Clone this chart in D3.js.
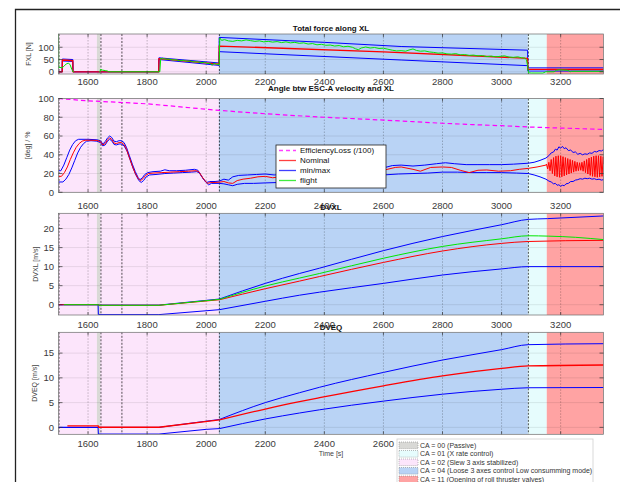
<!DOCTYPE html>
<html><head><meta charset="utf-8">
<script src="https://cdn.jsdelivr.net/npm/d3@7"></script>
<style>body{margin:0;background:#fff}svg{display:block}</style>
</head><body><svg id="fig" width="620" height="482"></svg>
<script>
// ---- time axis and control-mode (CA) phases ----
const timeTicks = [1600, 1800, 2000, 2200, 2400, 2600, 2800, 3000, 3200];
const caStart = [1500, 1630, 1642, 2043, 3089, 3153];
const caEnd   = [1630, 1642, 2043, 3089, 3153, 3345];
const caMode  = ["02", "00", "02", "04", "01", "11"];
const caEvents = [1500, 1642, 1713, 2043, 3089];
const caLegendModes = ["00", "01", "02", "04", "11"];
const caLegendLabels = [
  "CA = 00 (Passive)",
  "CA = 01 (X rate control)",
  "CA = 02 (Slew 3 axis stabilized)",
  "CA = 04 (Loose 3 axes control Low consumming mode)",
  "CA = 11 (Opening of roll thruster valves)"
];

// ---- total force along XL [N] ----
const fxlTicks = [0, 50, 100];
const fxlNomT = [1500,1512.5,1513,1530,1548.5,1549,1839.5,1840,2043.5,2044,2600,3088,3089,3345];
const fxlNomV = [0,0,48,47,45,0,0,54,31,105,81,55,10,10];
const fxlMaxT = [1500,1512.5,1513,1548.5,1549,1839.5,1840,2043.5,2044,2400,2660,3088,3089,3345];
const fxlMaxV = [0,0,52,50,0,0,57,36,140,120,103,88,16,16];
const fxlMinT = [1500,1512.5,1513,1548.5,1549,1839.5,1840,2043.5,2044,2660,3088,3089,3345];
const fxlMinV = [0,0,44,42,0,0,50,26,82,48,25,3,3];
const fxlFltT = [1500,1500.8,1505,1512,1518,1526,1533,1539,1545,1549,1552,1553,1638,1641,1642,1648,1658,1666,1670,1843,1846,1852,1862,1874,1886,1898,1910,1922,1934,1946,1958,1970,1982,1994,2006,2012,2020,2026,2034,2040,2044,2046,2052,2062,2075,2090,2105,2120,2135,2150,2165,2180,2195,2210,2225,2240,2255,2270,2285,2300,2315,2330,2345,2360,2375,2390,2405,2420,2435,2450,2465,2480,2495,2505,2515,2525,2540,2555,2570,2585,2600,2615,2630,2645,2660,2675,2690,2700,2712,2725,2740,2755,2770,2785,2800,2815,2830,2845,2860,2875,2890,2905,2920,2935,2950,2965,2980,2995,3010,3025,3040,3055,3068,3078,3084,3088,3091,3100,3140,3150,3178,3185,3195,3210,3225,3232,3236,3345];
const fxlFltV = [160,16,18,16,22,32,35,30,10,0,0,null,0,0,10,7,5,3,0,0,53,55,51,52,48,49,45,47,43,44,40,41,37,39,33,36,26,35,31,30,28,138,128,131,126,124,128,126,130,127,124,126,122,124,121,123,119,122,118,120,116,118,113,115,110,112,108,109,105,107,102,104,100,94,90,97,101,97,99,95,96,92,88,85,86,84,90,93,87,84,85,81,79,76,77,73,72,74,69,70,67,68,65,66,62,64,61,63,65,60,59,61,57,56,50,25,-4,-5,-5,0,0,6,8,7,6,0,2,2];

// ---- angle between ESC-A velocity and XL [deg] / efficiency loss [%] ----
const angTicks = [0, 20, 40, 60, 80, 100];
const effT = [1500,1600,1700,1800,1900,2000,2100,2200,2300,2400,2500,2600,2700,2800,2900,3000,3100,3200,3345];
const effV = [100,97.5,96,94.3,91.5,88.5,86,83.7,81.8,80,78.5,77,75.3,73.6,72.2,71,69.5,68.5,67];
const angNomT = [1500,1510,1520,1530,1540,1550,1560,1570,1580,1590,1610,1630,1642,1650,1658,1666,1673,1680,1688,1696,1705,1713,1722,1730,1740,1750,1760,1770,1778,1786,1795,1805,1820,1850,1880,1910,1940,1965,1975,1985,1995,2005,2015,2030,2045,2060,2075,2090,2105,2125,2150,2175,2200,2225,2250,2280,2320,2360,2400,2450,2500,2550,2600,2640,2660,2700,2725,2760,2800,2830,2860,2890,2920,2950,2990,3030,3060,3090,3120,3150,
  3152,3156,3160,3164,3168,3172,3176,3180,3184,3188,3192,3196,3200,3204,3208,3212,3216,3220,3224,3228,3232,3236,3240,3244,3248,3252,3256,3260,3264,3268,3272,3276,3280,3284,3288,3292,3296,3300,3304,3308,3312,3316,3320,3324,3328,3332,3336,3340,3344,3345];
const angNomV = [17,17,21,27,35,42,48,52,54.5,55.5,55.5,55.3,54,50.5,52,56,58,56.5,52.5,52,53,53,51,46,37,28,20,14.5,12.5,14.5,18,20,20.5,21,21.5,22,22.5,23,22,17,12.5,9.5,10.5,10.5,10.8,11.5,10,9.5,12.5,14,15,16.5,17,15.5,16.5,18,19.5,20,20.5,21.5,21.5,22,23.5,26.5,27,24.5,22.5,26.5,27,26.5,23.5,21,23.5,23.8,22.5,23,24.5,25.5,27,29,
  30,25,32,23,35,20,37,17.5,38.5,16.5,39,16,39,16.5,38,17.5,37,18.5,36,19.5,35,20.5,34,21.5,33,22.5,32,23,31.5,23.5,32,22.5,33.5,21,35,19.5,36.5,18,37.5,17,38.5,16.5,39,16,39,16.5,38.5,17,38,30];
const angMaxT = [1500,1508,1518,1528,1538,1548,1558,1568,1600,1630,1642,1650,1658,1666,1673,1680,1688,1696,1705,1713,1722,1730,1740,1750,1760,1770,1776,1784,1792,1802,1820,1845,1860,1875,1900,1930,1960,1972,1982,1992,2002,2012,2030,2045,2060,2075,2090,2110,2140,2170,2200,2230,2260,2300,2350,2400,2450,2500,2550,2600,2630,2660,2700,2740,2780,2810,2840,2880,2920,2960,3000,3040,3090,3110,3130,3150,3160,3168,3176,3182,3188,3194,3200,3206,3212,3218,3226,3234,3242,3250,3258,3266,3274,3282,3290,3298,3306,3314,3322,3330,3338,3345];
const angMaxV = [23,23,29,37,45,51,55,56.5,56.5,56,55,51.5,54,58,60,58.5,54.5,54,55,55,53,48,39,30,22,15.5,13.5,15.5,19,21,22,22.5,24,23,23,23.5,24.5,23.5,18,13.5,10.5,11.5,11.5,12,14,13,16.5,18,18.5,19,19.5,18.5,19,20.5,21.5,22.5,23.5,24.5,25,26,28.5,29,28,29,30.5,31.5,30.5,29.5,29.5,29.5,29.5,30,31,32,34,36.5,39,42,43,46,45,48.5,47,49,46.5,47.5,44.5,45,42.5,43,40.5,41.5,40,41,40.5,42,41.5,43.5,43,44.5,44,45.5];
const angMinT = [1500,1515,1525,1535,1545,1555,1565,1575,1585,1595,1610,1630,1642,1650,1658,1666,1673,1680,1688,1696,1705,1713,1722,1732,1742,1752,1762,1772,1780,1788,1797,1808,1830,1860,1890,1920,1950,1968,1978,1988,1998,2008,2018,2045,2060,2075,2090,2105,2130,2160,2200,2250,2300,2350,2400,2450,2500,2550,2600,2650,2700,2750,2800,2850,2900,2950,3000,3050,3090,3110,3130,3150,3160,3168,3176,3182,3188,3194,3200,3206,3212,3218,3226,3234,3242,3250,3258,3266,3274,3282,3290,3298,3306,3314,3322,3330,3338,3345];
const angMinV = [11,11,14,19,26,34,42,48,52,54.5,55,54.5,53,49.5,50.5,54.5,56.5,55,51,50.5,51.5,51.5,49.5,44,35,26,18.5,12.5,10.5,12.5,16.5,18.5,19,20,20.5,21,21.5,22,20.5,15.5,11,8,9.5,9.5,9,8,7,8.5,9.5,9.5,10,10.5,11.5,12.5,13.5,14.5,16,17,18.5,19.5,20,20.5,21.5,21.5,21,21,21,20.5,20,18.5,16.5,14,12,11,9,9.5,7.5,8,6.5,7.5,7,9,9.5,11.5,11.5,13,13.5,14.5,14,15,14.5,15,14,14.5,13.5,14,13,13.5];

// ---- delta-V along XL [m/s] ----
const dvxlTicks = [0, 5, 10, 15, 20];
const dvxlNomT = [1500,1635,1636,1840,2045,2200,2316,2384,2600,2800,3000,3090,3345];
const dvxlNomV = [0,0,-0.15,-0.15,1.3,4.2,6.2,7.4,11.1,14.1,16.1,16.6,16.9];
const dvxlMaxT = [1500,1635,1636,1840,2045,2200,2316,2384,2600,2800,3000,3090,3155,3345];
const dvxlMaxV = [0,0,-0.1,-0.1,1.5,5.6,8.2,9.6,14.2,17.9,21.0,22.4,22.6,23.3];
const dvxlMinT = [1500,1634,1635,1840,2045,2200,2316,2384,2600,2800,3000,3090,3345];
const dvxlMinV = [0,0,-2.6,-2.6,-1.3,0.9,2.5,3.3,5.6,7.8,9.4,10.0,10.0];
const dvxlFltT = [1518,1635,1636,1840,2045,2200,2316,2384,2600,2800,3000,3090,3160,3250,3300,3345];
const dvxlFltV = [0,0,-0.15,-0.15,1.4,4.9,7.0,8.2,12.2,15.3,17.3,18.1,18.0,17.7,17.4,17.1];

// ---- delta-V along EQ [m/s] ----
const dveqTicks = [0, 5, 10, 15];
const dveqNomT = [1530,1635,1636,1840,2045,2200,2316,2384,2600,2800,3000,3090,3345];
const dveqNomV = [0.3,0.3,0.02,0.02,1.5,3.7,5.2,6.0,8.4,10.4,11.9,12.4,12.6];
const dveqMaxT = [1500,1840,2045,2200,2316,2384,2600,2800,3000,3090,3345];
const dveqMaxV = [0,0,1.6,5.0,7.0,8.1,11.1,13.6,15.7,16.7,16.9];
const dveqMinT = [1500,1634,1635,1840,2000,2045,2200,2316,2384,2600,2800,3000,3090,3345];
const dveqMinV = [0,0,-1.35,-1.35,-0.4,-0.25,1.7,2.9,3.55,5.3,6.7,7.7,8.0,8.05];

// ---- styling ----
const modeColor = {"00": "#d9d9d6", "01": "#e6fcfd", "02": "#fce5fb", "04": "#b9d3f5", "11": "#ffa3a3"};
const RED = "#ff0000", BLUE = "#0000ff", GREEN = "#00e600", MAG = "#ff00ff";
const FONT = "'Liberation Sans', Helvetica, Arial, sans-serif";

const zip = (t, v) => t.map((x, i) => ({t: x, v: v[i]}));

const svg = d3.select("#fig");
svg.append("rect").attr("width", 620).attr("height", 482).attr("fill", "#fff");
// figure frame
svg.append("path").attr("d", "M15.5,490 V9.5 H630").attr("fill", "none")
  .attr("stroke", "#222").attr("stroke-width", 1.3);

const x = d3.scaleLinear().domain([1500, 3345]).range([58.5, 603.5]);

// mode legend sits over the right part of the last time axis
const legendBox = {x: 397, y: 439, w: 196, h: 60};

const panels = [
  {top: 34, bottom: 74, domain: [-9, 154], ticks: fxlTicks, title: "Total force along XL", titleY: 31,
   ylabel: "FXL [N]", ylabelX: 31, xLabelY: 85,
   series: [
     {t: fxlMaxT, v: fxlMaxV, c: BLUE}, {t: fxlMinT, v: fxlMinV, c: BLUE},
     {t: fxlNomT, v: fxlNomV, c: RED, w: 1.3}, {t: fxlFltT, v: fxlFltV, c: GREEN}]},
  {top: 98.5, bottom: 192.3, domain: [0, 100], ticks: angTicks, title: "Angle btw ESC-A velocity and XL", titleY: 91,
   ylabel: "[deg] / %", ylabelX: 30, xLabelY: 208.5,
   series: [
     {t: effT, v: effV, c: MAG, dash: "4.5,3", w: 1.2},
     {t: angMaxT, v: angMaxV, c: BLUE}, {t: angMinT, v: angMinV, c: BLUE},
     {t: angNomT, v: angNomV, c: RED}]},
  {top: 213.3, bottom: 315, domain: [-2.7, 24], ticks: dvxlTicks, title: "DVXL", titleY: 210,
   ylabel: "DVXL [m/s]", ylabelX: 38, xLabelY: 327.5, smoothFrom: 2045,
   series: [
     {t: dvxlMaxT, v: dvxlMaxV, c: BLUE}, {t: dvxlMinT, v: dvxlMinV, c: BLUE},
     {t: dvxlNomT, v: dvxlNomV, c: RED}, {t: dvxlFltT, v: dvxlFltV, c: GREEN}]},
  {top: 332.3, bottom: 434.3, domain: [-1.4, 19.2], ticks: dveqTicks, title: "DVEQ", titleY: 329.5,
   ylabel: "DVEQ [m/s]", ylabelX: 37, xLabelY: 446.5, smoothFrom: 2045, underLegend: true,
   series: [
     {t: dveqMaxT, v: dveqMaxV, c: BLUE}, {t: dveqMinT, v: dveqMinV, c: BLUE},
     {t: dveqNomT, v: dveqNomV, c: RED, w: 1.3}]}
];

panels.forEach((p, pi) => {
  const y = d3.scaleLinear().domain(p.domain).range([p.bottom, p.top]);
  const g = svg.append("g");
  const clipId = "clip" + pi;
  g.append("clipPath").attr("id", clipId).append("rect")
    .attr("x", x.range()[0]).attr("y", p.top)
    .attr("width", x.range()[1] - x.range()[0]).attr("height", p.bottom - p.top);
  const plot = g.append("g").attr("clip-path", `url(#${clipId})`);

  // control-mode phases
  plot.selectAll("rect.ca").data(caStart.map((s, i) => ({s, e: caEnd[i], m: caMode[i]})))
    .join("rect").attr("class", "ca")
    .attr("x", d => x(d.s)).attr("width", d => x(d.e) - x(d.s))
    .attr("y", p.top).attr("height", p.bottom - p.top)
    .attr("fill", d => modeColor[d.m]);

  // grid
  plot.selectAll("line.gx").data(timeTicks).join("line").attr("class", "gx")
    .attr("x1", d => x(d)).attr("x2", d => x(d)).attr("y1", p.top).attr("y2", p.bottom)
    .attr("stroke", "#000").attr("stroke-opacity", 0.4).attr("stroke-width", 0.6)
    .attr("stroke-dasharray", "1.5,1.5");
  plot.selectAll("line.gy").data(p.ticks).join("line").attr("class", "gy")
    .attr("x1", x.range()[0]).attr("x2", x.range()[1]).attr("y1", d => y(d)).attr("y2", d => y(d))
    .attr("stroke", "#000").attr("stroke-opacity", 0.15).attr("stroke-width", 0.6);

  // mode switch markers
  plot.selectAll("line.ev").data(caEvents).join("line").attr("class", "ev")
    .attr("x1", d => x(d) + 0.5).attr("x2", d => x(d) + 0.5).attr("y1", p.top).attr("y2", p.bottom)
    .attr("stroke", "#000").attr("stroke-opacity", 0.85).attr("stroke-width", 0.8)
    .attr("stroke-dasharray", "2,1.5");

  // series: linear segments, with the accumulated delta-V drawn smooth once thrusting starts
  const linear = d3.line().defined(d => d.v !== null).x(d => x(d.t)).y(d => y(d.v));
  const smooth = d3.line().x(d => x(d.t)).y(d => y(d.v)).curve(d3.curveMonotoneX);
  p.series.forEach(s => {
    const pts = zip(s.t, s.v);
    const parts = p.smoothFrom
      ? [[pts.filter(d => d.t <= p.smoothFrom), linear], [pts.filter(d => d.t >= p.smoothFrom), smooth]]
      : [[pts, linear]];
    parts.forEach(([data, gen]) => {
      plot.append("path").datum(data).attr("d", gen)
        .attr("fill", "none").attr("stroke", s.c).attr("stroke-width", s.w || 1)
        .attr("stroke-dasharray", s.dash || null).attr("stroke-linejoin", "round");
    });
  });

  // axes box and inward ticks
  const [x0, x1] = x.range();
  g.append("rect").attr("x", x0).attr("y", p.top).attr("width", x1 - x0).attr("height", p.bottom - p.top)
    .attr("fill", "none").attr("stroke", "#6a6a6a").attr("stroke-width", 0.7);
  const tk = g.append("g").attr("stroke", "#333").attr("stroke-width", 0.7);
  timeTicks.forEach(t => {
    tk.append("line").attr("x1", x(t)).attr("x2", x(t)).attr("y1", p.bottom).attr("y2", p.bottom - 3);
    tk.append("line").attr("x1", x(t)).attr("x2", x(t)).attr("y1", p.top).attr("y2", p.top + 3);
  });
  p.ticks.forEach(v => {
    tk.append("line").attr("x1", x0).attr("x2", x0 + 4).attr("y1", y(v)).attr("y2", y(v));
    tk.append("line").attr("x1", x1).attr("x2", x1 - 4).attr("y1", y(v)).attr("y2", y(v));
  });

  // tick labels (those hidden under the mode legend are skipped)
  const xLabels = p.underLegend ? timeTicks.filter(t => x(t) + 12 < legendBox.x) : timeTicks;
  g.selectAll("text.xt").data(xLabels).join("text").attr("class", "xt")
    .attr("x", d => x(d)).attr("y", p.xLabelY).attr("text-anchor", "middle")
    .attr("font-family", FONT).attr("font-size", 9.5).attr("fill", "#3a3a3a").text(d => d);
  g.selectAll("text.yt").data(p.ticks).join("text").attr("class", "yt")
    .attr("x", 54).attr("y", d => y(d)).attr("dy", "0.35em").attr("text-anchor", "end")
    .attr("font-family", FONT).attr("font-size", 9.5).attr("fill", "#3a3a3a").text(d => d);

  // y label
  g.append("text").attr("transform", `translate(${p.ylabelX},${(p.top + p.bottom) / 2}) rotate(-90)`)
    .attr("text-anchor", "middle").attr("font-family", FONT).attr("font-size", 7)
    .attr("fill", "#444").text(p.ylabel);

  // title
  g.append("text").attr("x", (x0 + x1) / 2).attr("y", p.titleY).attr("text-anchor", "middle")
    .attr("font-family", FONT).attr("font-size", 8).attr("font-weight", "bold")
    .attr("fill", "#111").text(p.title);
});

// x label
svg.append("text").attr("x", 331).attr("y", 455.5).attr("text-anchor", "middle")
  .attr("font-family", FONT).attr("font-size", 7).attr("fill", "#444").text("Time [s]");

// series legend in the angle panel
const lgItems = [
  {label: "EfficiencyLoss (/100)", c: MAG, dash: "4,3"},
  {label: "Nominal", c: RED},
  {label: "min/max", c: BLUE},
  {label: "flight", c: GREEN}
];
const lg = svg.append("g").attr("transform", "translate(276,145)");
lg.append("rect").attr("width", 110).attr("height", 43).attr("fill", "#fff")
  .attr("stroke", "#222").attr("stroke-width", 0.8);
lgItems.forEach((d, i) => {
  const yy = 5.5 + i * 10;
  lg.append("line").attr("x1", 3).attr("x2", 20).attr("y1", yy).attr("y2", yy)
    .attr("stroke", d.c).attr("stroke-width", 1.3).attr("stroke-opacity", 0.75)
    .attr("stroke-dasharray", d.dash || null);
  lg.append("text").attr("x", 24).attr("y", yy).attr("dy", "0.35em")
    .attr("font-family", FONT).attr("font-size", 8).attr("fill", "#111").text(d.label);
});

// control-mode legend
const cl = svg.append("g").attr("transform", `translate(${legendBox.x},${legendBox.y})`);
cl.append("rect").attr("width", legendBox.w).attr("height", legendBox.h).attr("fill", "#fff")
  .attr("stroke", "#cfcfcf").attr("stroke-width", 0.8);
caLegendModes.forEach((m, i) => {
  const yy = 6.3 + i * 8.5;
  cl.append("rect").attr("x", 2).attr("y", yy - 3.3).attr("width", 19).attr("height", 6.6)
    .attr("fill", modeColor[m]).attr("stroke", "#777").attr("stroke-width", 0.5)
    .attr("stroke-dasharray", "1,1");
  cl.append("text").attr("x", 23).attr("y", yy).attr("dy", "0.35em")
    .attr("font-family", FONT).attr("font-size", 7).attr("fill", "#333").text(caLegendLabels[i]);
});
</script></body></html>
